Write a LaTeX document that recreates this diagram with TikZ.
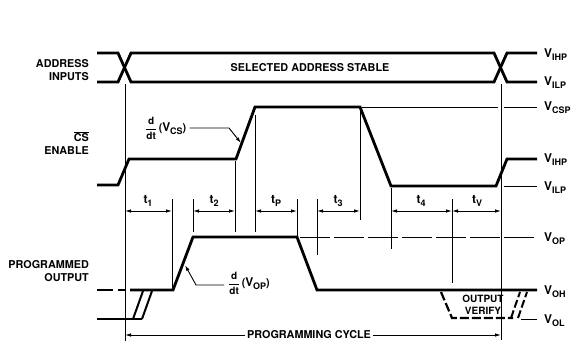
\documentclass[tikz,border=0pt]{standalone}
\usepackage{fontspec}
\setmainfont{TeX Gyre Heros}
\usetikzlibrary{arrows.meta}
\newcommand{\Vsub}[1]{{\fontsize{12}{12}\selectfont V}\kern-0.2pt\raisebox{-2.8pt}{\fontsize{9}{9}\selectfont #1}}
\newcommand{\tsub}[1]{{\fontsize{12}{12}\selectfont t}\raisebox{-2.8pt}{\fontsize{9}{9}\selectfont #1}}
\newcommand{\ddt}{$\displaystyle\frac{\mbox{\fontsize{10}{10}\selectfont\bfseries d}}{\mbox{\fontsize{10}{10}\selectfont\bfseries dt}}$}
\begin{document}
\begin{tikzpicture}[x=1pt,y=-1pt,
  sig/.style={line width=2.8pt},
  thinl/.style={line width=0.9pt},
  dashsig/.style={line width=2.2pt,dash pattern=on 9pt off 3pt},
  dim/.style={line width=0.9pt,{Latex[length=6pt,width=3.5pt]}-{Latex[length=6pt,width=3.5pt]}},
  lead/.style={line width=0.9pt,-{Latex[length=6pt,width=3.5pt]}},
  lbl/.style={font=\bfseries\fontsize{10.8}{12}\selectfont, inner sep=0pt},
  llbl/.style={lbl, anchor=east},
  rlbl/.style={lbl, anchor=west}]
\useasboundingbox (0,0) rectangle (577,342);

% ---------- left labels
\node[llbl] (a1) at (89,64) {ADDRESS};
\node[llbl] (a2) at (89,77) {INPUTS};
\node[llbl] (c1) at (89,137) {$\overline{\mbox{\bfseries CS}}$};
\node[llbl] (c2) at (89,151) {ENABLE};
\node[llbl] (p1) at (89,265) {PROGRAMMED};
\node[llbl] (p2) at (89,278) {OUTPUT};

% ---------- right labels
\node[rlbl] (r1) at (544,55) {\Vsub{IHP}};
\node[rlbl] (r2) at (544,83) {\Vsub{ILP}};
\node[rlbl] (r3) at (544,108) {\Vsub{CSP}};
\node[rlbl] (r4) at (544,160) {\Vsub{IHP}};
\node[rlbl] (r5) at (544,188) {\Vsub{ILP}};
\node[rlbl] (r6) at (544,239) {\Vsub{OP}};
\node[rlbl] (r7) at (544,292) {\Vsub{OH}};
\node[rlbl] (r8) at (544,321) {\Vsub{OL}};

% ---------- address inputs
\draw[sig] (97,53) -- (118,53) -- (131,82) -- (494,82) -- (507,53) -- (537,53);
\draw[sig] (97,82) -- (118,82) -- (131,53) -- (494,53) -- (507,82) -- (537,82);
\node[lbl] (stab) at (310,68) {SELECTED ADDRESS STABLE};

% ---------- CS enable
\draw[sig] (97,185) -- (118,185) -- (129,159) -- (236,159) -- (255,107) -- (360,107)
  -- (391,186) -- (496,186) -- (507,159) -- (537,159);
\draw[thinl] (362,107) -- (498,107);
\draw[thinl] (504,107) -- (537,107);
\draw[thinl] (504,186) -- (537,186);

% ---------- V_OP reference
\draw[thinl,dash pattern=on 30pt off 4pt] (300,237) -- (537,237);

% ---------- vertical lines
\coordinate (v0t) at (125,84);  \coordinate (v0b) at (125,341);
\coordinate (v1t) at (172,199); \coordinate (v1b) at (172,290);
\coordinate (v2t) at (193,199); \coordinate (v2b) at (193,232);
\coordinate (v3t) at (235,161); \coordinate (v3b) at (235,232);
\coordinate (v4t) at (255,115); \coordinate (v4b) at (255,232);
\coordinate (v5t) at (297,199); \coordinate (v5b) at (297,236);
\coordinate (v6t) at (317,199); \coordinate (v6b) at (317,255);
\coordinate (v7t) at (360,110); \coordinate (v7b) at (360,220);
\coordinate (v8t) at (391,188); \coordinate (v8b) at (391,249);
\coordinate (v9t) at (452,199); \coordinate (v9b) at (452,283);
\coordinate (v10t) at (501,84); \coordinate (v10b) at (501,340);
\foreach \i in {0,...,10} {\draw[thinl] (v\i t) -- (v\i b);}

% ---------- timing dimensions
\coordinate (dy) at (0,211);
\draw[dim] (v0t |- dy) -- (v1t |- dy);
\draw[dim] (v2t |- dy) -- (v3t |- dy);
\draw[dim] (v4t |- dy) -- (v5t |- dy);
\draw[dim] (v6t |- dy) -- (v7t |- dy);
\draw[dim] (v8t |- dy) -- (v9t |- dy);
\draw[dim] (v9t |- dy) -- (v10t |- dy);
\node[lbl] (t1) at (148,201) {\tsub{1}};
\node[lbl] (t2) at (214,201) {\tsub{2}};
\node[lbl] (tp) at (276,201) {\tsub{P}};
\node[lbl] (t3) at (338,201) {\tsub{3}};
\node[lbl] (t4) at (421,201) {\tsub{4}};
\node[lbl] (tv) at (477,201) {\tsub{V}};

% ---------- programmed output
\draw[sig] (97,290) -- (113,290);
\draw[sig] (118,290) -- (126,290);
\draw[sig] (130,290) -- (173,290) -- (193,237) -- (297,237) -- (317,290) -- (537,290);
\draw[sig] (97,319) -- (142,319);
\draw[line width=2pt] (133,319) -- (143,291);
\draw[line width=2pt] (142,319) -- (152,291);

% output verify
\draw[dashsig] (441,292) -- (452,318) -- (513,318);
\draw[line width=2pt,dash pattern=on 8pt off 3pt] (511,318) -- (520,292);
\draw[line width=2pt,dash pattern=on 8pt off 3pt] (518,318) -- (527,292);
\draw[thinl] (521,319) -- (537,319);
\node[lbl,font=\bfseries\fontsize{10}{11}\selectfont] (ov1) at (483,299) {OUTPUT};
\node[lbl,font=\bfseries\fontsize{10}{11}\selectfont] (ov2) at (483,311) {VERIFY};

% ---------- slope annotations
\node[lbl,anchor=west] (dcs) at (145,128) {\ddt\,(\Vsub{CS})};
\coordinate (dcs1) at (229,128);
\coordinate (dcs2) at (241,143);
\draw[lead] (dcs.east) ++(3,0) -- (dcs1) -- (dcs2);

\node[lbl,anchor=west] (dop) at (228,283) {\ddt\,(\Vsub{OP})};
\coordinate (dop1) at (196,285);
\coordinate (dop2) at (185,265);
\draw[lead] (dop.west) ++(-4,2) -- (dop1) -- (dop2);

% ---------- programming cycle
\coordinate (pc) at (0,335);
\draw[dim] (v0t |- pc) -- (v10t |- pc);
\node[lbl,fill=white,inner xsep=2pt,inner ysep=1pt] (pcl) at (309,335) {PROGRAMMING CYCLE};
\end{tikzpicture}
\end{document}
